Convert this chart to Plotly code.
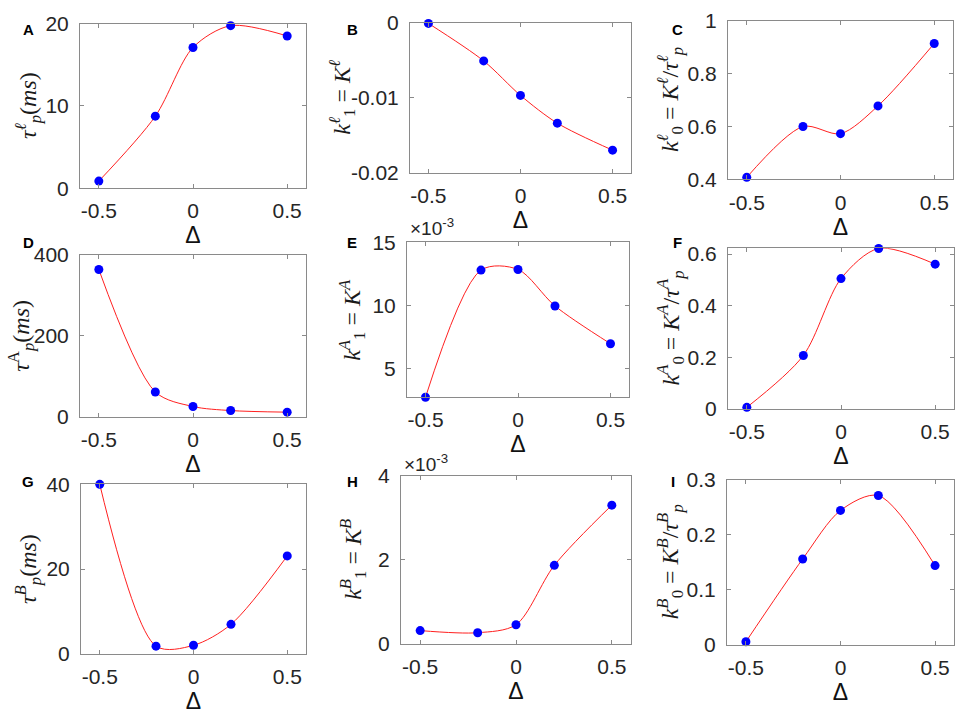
import plotly.graph_objects as go

# ---------------- data ----------------
delta = [-0.5, -0.2, 0.0, 0.2, 0.5]

tau_l = [0.86, 8.75, 17.1, 19.75, 18.5]            # ms
k1_l = [-0.0001, -0.0051, -0.0097, -0.0134, -0.0170]
k0_l = [0.408, 0.600, 0.573, 0.678, 0.914]

tau_A = [364, 61, 25, 15, 11]                       # ms
k1_A_e3 = [2.7, 12.8, 12.85, 9.95, 6.95]            # x 1e-3
k0_A = [0.006, 0.207, 0.505, 0.622, 0.561]

tau_B = [40.0, 1.8, 2.0, 6.95, 23.1]                # ms
k1_B_e3 = [0.32, 0.27, 0.46, 1.87, 3.30]            # x 1e-3
k0_B = [0.006, 0.156, 0.244, 0.271, 0.144]

x_ticks = [-0.5, 0, 0.5]
x_ticktext = ["-0.5", "0", "0.5"]

W, H = 957, 718

panels = [
    dict(letter="A", y=tau_l, box=(80, 306, 12, 182), yr=[0, 20], yt=[0, 10, 20], ytt=["0", "10", "20"],
         lab="<i>τ</i><sup><i>ℓ</i></sup><sub><i>p</i></sub>(<i>ms</i>)", lx=28),
    dict(letter="B", y=k1_l, box=(410, 631, 11, 166), yr=[-0.02, 0], yt=[-0.02, -0.01, 0],
         ytt=["-0.02", "-0.01", "0"],
         lab="<i>k</i><sup><i>ℓ</i></sup><sub>1</sub> = <i>K</i><sup><i>ℓ</i></sup>", lx=342),
    dict(letter="C", y=k0_l, box=(728, 953, 9, 173), yr=[0.4, 1.0], yt=[0.4, 0.6, 0.8, 1.0],
         ytt=["0.4", "0.6", "0.8", "1"],
         lab="<i>k</i><sup><i>ℓ</i></sup><sub>0</sub> = <i>K</i><sup><i>ℓ</i></sup>/<i>τ</i><sup><i>ℓ</i></sup><sub><i>p</i></sub>",
         lx=670),
    dict(letter="D", y=tau_A, box=(80, 306, 251, 418), yr=[0, 400], yt=[0, 200, 400], ytt=["0", "200", "400"],
         lab="<i>τ</i><sup>A</sup><sub><i>p</i></sub>(<i>ms</i>)", lx=21),
    dict(letter="E", y=k1_A_e3, box=(407, 629, 238, 398), yr=[2.7, 15], yt=[5, 10, 15], ytt=["5", "10", "15"],
         lab="<i>k</i><sup><i>A</i></sup><sub>1</sub> = <i>K</i><sup><i>A</i></sup>", lx=352, exp=(408, 222)),
    dict(letter="F", y=k0_A, box=(728, 954, 244, 410), yr=[0, 0.623], yt=[0, 0.2, 0.4, 0.6],
         ytt=["0", "0.2", "0.4", "0.6"],
         lab="<i>k</i><sup><i>A</i></sup><sub>0</sub> = <i>K</i><sup><i>A</i></sup>/<i>τ</i><sup><i>A</i></sup><sub><i>p</i></sub>",
         lx=670),
    dict(letter="G", y=tau_B, box=(81, 306, 488, 663), yr=[0, 40], yt=[0, 20, 40], ytt=["0", "20", "40"],
         lab="<i>τ</i><sup><i>B</i></sup><sub><i>p</i></sub>(<i>ms</i>)", lx=28),
    dict(letter="H", y=k1_B_e3, box=(401, 631, 479, 653), yr=[0, 4], yt=[0, 2, 4], ytt=["0", "2", "4"],
         lab="<i>k</i><sup><i>B</i></sup><sub>1</sub> = <i>K</i><sup><i>B</i></sup>", lx=353, exp=(402, 466)),
    dict(letter="I", y=k0_B, box=(727, 954, 483, 654), yr=[0, 0.3], yt=[0, 0.1, 0.2, 0.3],
         ytt=["0", "0.1", "0.2", "0.3"],
         lab="<i>k</i><sup><i>B</i></sup><sub>0</sub> = <i>K</i><sup><i>B</i></sup>/<i>τ</i><sup><i>B</i></sup><sub><i>p</i></sub>",
         lx=670),
]

letter_pos = {"A": (28, 18), "B": (352, 18), "C": (677, 18),
              "D": (28, 238), "E": (352, 238), "F": (677, 238),
              "G": (28, 485), "H": (352, 485), "I": (673, 485)}

SANS = "Liberation Sans, Arial, Helvetica, sans-serif"
TICK_FONT = dict(family=SANS, size=21, color="#262626")
LAB_FONT = dict(family="Liberation Serif, Times New Roman, serif", size=24, color="#1a1a1a")
AX_COLOR = "#8a8a8a"

fig = go.Figure()
annotations = []
layout_axes = {}

for i, p in enumerate(panels, start=1):
    L, R, T, B = p["box"]
    xa = "x" if i == 1 else f"x{i}"
    ya = "y" if i == 1 else f"y{i}"
    xkey = "xaxis" if i == 1 else f"xaxis{i}"
    ykey = "yaxis" if i == 1 else f"yaxis{i}"

    fig.add_trace(go.Scatter(
        x=delta, y=p["y"], mode="lines", line=dict(color="#ff2020", width=1, shape="spline", smoothing=0.85),
        xaxis=xa, yaxis=ya, showlegend=False, hoverinfo="skip"))
    fig.add_trace(go.Scatter(
        x=delta, y=p["y"], mode="markers", marker=dict(color="#0000ff", size=9),
        xaxis=xa, yaxis=ya, showlegend=False, cliponaxis=False))

    layout_axes[xkey] = dict(
        domain=[L / W, R / W], range=[-0.6, 0.6], anchor=ya,
        tickvals=x_ticks, ticktext=x_ticktext, ticks="inside", ticklen=4, tickcolor=AX_COLOR,
        showline=True, linecolor=AX_COLOR, linewidth=1, mirror="ticks",
        showgrid=False, zeroline=False, tickfont=TICK_FONT, ticklabelstandoff=4,
        title=dict(text="Δ", font=dict(family=SANS, size=23, color="#111"), standoff=2),
    )
    layout_axes[ykey] = dict(
        domain=[1 - B / H, 1 - T / H], range=p["yr"], anchor=xa,
        tickvals=p["yt"], ticktext=p["ytt"], ticks="inside", ticklen=4, tickcolor=AX_COLOR,
        showline=True, linecolor=AX_COLOR, linewidth=1, mirror="ticks",
        showgrid=False, zeroline=False, tickfont=TICK_FONT, ticklabelstandoff=6,
    )

    annotations.append(dict(
        text=p["lab"], xref="paper", yref="paper", x=p["lx"] / W, y=1 - (T + B) / 2 / H,
        xanchor="center", yanchor="middle", textangle=-90, showarrow=False, font=LAB_FONT))

    lx, ly = letter_pos[p["letter"]]
    annotations.append(dict(
        text=f"<b>{p['letter']}</b>", xref="paper", yref="paper", x=lx / W, y=1 - ly / H,
        xanchor="center", yanchor="middle", showarrow=False,
        font=dict(family=SANS, size=15, color="#000")))

    if "exp" in p:
        ex, ey = p["exp"]
        annotations.append(dict(
            text="×10<sup>-3</sup>", xref="paper", yref="paper", x=ex / W, y=1 - ey / H,
            xanchor="left", yanchor="middle", showarrow=False,
            font=dict(family=SANS, size=19, color="#262626")))

fig.update_layout(
    width=W, height=H, margin=dict(l=0, r=0, t=0, b=0),
    paper_bgcolor="white", plot_bgcolor="white",
    annotations=annotations, showlegend=False,
    **layout_axes,
)

fig.write_html(
    "out.html",
    config={"displayModeBar": False},
    post_script="document.body.style.margin='0';document.body.style.overflow='hidden';",
)
